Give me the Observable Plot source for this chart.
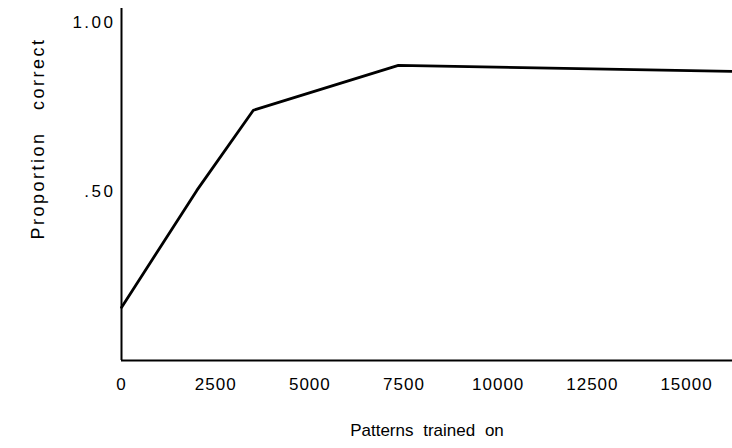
<!DOCTYPE html>
<html>
<head>
<meta charset="utf-8">
<script src="https://cdn.jsdelivr.net/npm/d3@7"></script>
<script src="https://cdn.jsdelivr.net/npm/@observablehq/plot@0.6"></script>
<style>
  html, body { margin: 0; padding: 0; background: #fff; }
  #chart svg { display: block; }
  #chart svg g[aria-label="x-axis tick label"] {
    font-size: 17px; letter-spacing: 1px;
    font-family: 'Liberation Sans', Arial, sans-serif;
  }
  #chart svg g[aria-label="y-axis tick label"] {
    font-size: 17px; letter-spacing: 2.5px;
    font-family: 'Liberation Sans', Arial, sans-serif;
  }
</style>
</head>
<body>
<div id="chart"></div>
<script>
// Data
const patterns = [0, 2000, 3500, 7350, 16220];
const proportion = [0.157, 0.503, 0.74, 0.873, 0.855];
const xTicks = [0, 2500, 5000, 7500, 10000, 12500, 15000];
const yTicks = [0.5, 1.0];
const yTickLabels = [".50", "1.00"];
const xTitle = "Patterns trained on";
const yTitle = "Proportion correct";

const data = patterns.map((p, i) => ({x: p, y: proportion[i]}));

const chart = Plot.plot({
  width: 732,
  height: 448,
  marginLeft: 121,
  marginRight: 0,
  marginTop: 8,
  marginBottom: 88,
  style: {fontFamily: "'Liberation Sans', Arial, sans-serif", fontSize: "17px", color: "#000", background: "#fff"},
  x: {domain: [0, 16220]},
  y: {domain: [0, 1.041]},
  marks: [
    Plot.axisX({ticks: xTicks, tickSize: 0, tickPadding: 17, tickFormat: d => String(d), label: null}),
    Plot.axisY({ticks: yTicks, tickSize: 0, tickPadding: 6, tickFormat: d => yTickLabels[yTicks.indexOf(d)], label: null}),
    Plot.ruleX([0], {stroke: "#000", strokeWidth: 2}),
    Plot.ruleY([0], {stroke: "#000", strokeWidth: 2}),
    Plot.line(data, {x: "x", y: "y", stroke: "#000", strokeWidth: 2.8}),
    Plot.text([xTitle], {frameAnchor: "bottom", dy: 75, text: d => d, fontSize: 17, fill: "#000"}),
    Plot.text([yTitle], {frameAnchor: "left", textAnchor: "middle", dx: -83, dy: -46, rotate: -90, text: d => d, fontSize: 18, fill: "#000"})
  ]
});
// match the wide letter/word spacing of the scanned titles
const texts = chart.querySelectorAll("g[aria-label='text']");
if (texts[0]) { texts[0].style.wordSpacing = "5px"; }
if (texts[1]) { texts[1].style.letterSpacing = "2.5px"; texts[1].style.wordSpacing = "14px"; }
document.getElementById("chart").append(chart);
</script>
</body>
</html>
